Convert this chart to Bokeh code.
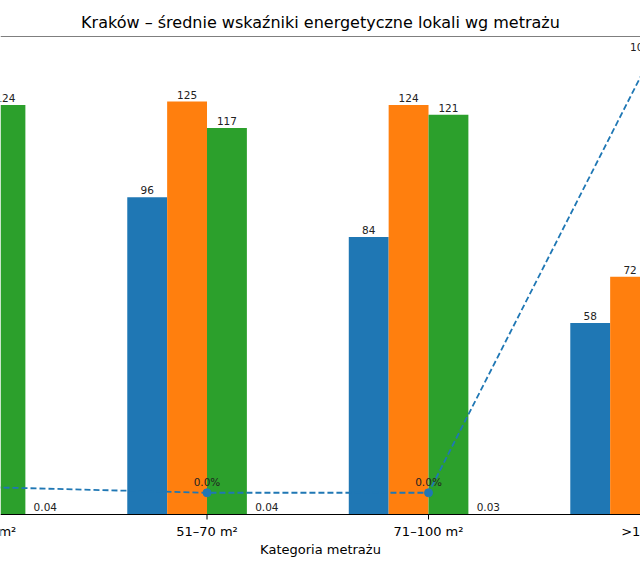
import math
from bokeh.plotting import figure
from bokeh.models import Range1d, Span, ColumnDataSource
from bokeh.core.properties import value
from bokeh.embed import file_html
from bokeh.resources import INLINE

# --- data -------------------------------------------------------------
categories = ["31–50 m²", "51–70 m²", "71–100 m²", ">100 m²"]
series_a = [math.nan, 96, 84, 58]          # blue
series_b = [math.nan, 125, 124, 72]        # orange
series_c = [124, 117, 121, math.nan]       # green
series_d = [0.04, 0.04, 0.03, math.nan]    # red (very small values)
share_pct = [1.3, 0.0, 0.0, 100.0]         # dashed line, secondary scale
x_label = "Kategoria metrażu"
title = "Kraków – średnie wskaźniki energetyczne lokali wg metrażu"

FONT = "DejaVu Sans"
BLUE, ORANGE, GREEN, RED = "#1f77b4", "#ff7f0e", "#2ca02c", "#d62728"
W = 0.18
X0, X1 = 0.0677, 2.957

# value axis: 0..144.7 over 478 px, plus a 56 px strip below zero that
# holds the category axis (ticks, names, axis title)
Y_TOP = 144.7
PX_PER_UNIT = 478 / Y_TOP
Y_BOTTOM = -56 / PX_PER_UNIT
PCT_LO, PCT_HI = -5.0, 105.0
PCT_PX = 478 / (PCT_HI - PCT_LO)
PCT_BOTTOM = PCT_LO - 56 / PCT_PX
TICK_LEN = 5 / PX_PER_UNIT

p = figure(width=640, height=570, output_backend="svg", toolbar_location=None,
           x_range=Range1d(X0, X1), y_range=Range1d(Y_BOTTOM, Y_TOP),
           x_axis_location=None, y_axis_location=None,
           min_border_left=0, min_border_right=0, min_border_bottom=0,
           min_border_top=36, title=title)
p.extra_y_ranges = {"pct": Range1d(PCT_BOTTOM, PCT_HI)}
p.grid.visible = False
p.outline_line_color = None
p.background_fill_color = "white"
p.border_fill_color = "white"

p.title.align = "center"
p.title.text_font = FONT
p.title.text_font_style = "normal"
p.title.text_font_size = "16px"
p.title.text_color = "black"

xs = list(range(len(categories)))
series = [(series_a, -1.5, BLUE), (series_b, -0.5, ORANGE),
          (series_c, 0.5, GREEN), (series_d, 1.5, RED)]

for vals, off, col in series:
    src = ColumnDataSource(dict(x=[i + off * W for i in xs], top=vals))
    p.vbar(x="x", top="top", bottom=0, width=W, source=src,
           fill_color=col, line_color=None)
    lx, ly, lt = [], [], []
    for i, v in zip(xs, vals):
        if v is None or (isinstance(v, float) and math.isnan(v)):
            continue
        lx.append(i + off * W)
        ly.append(v)
        lt.append(f"{v:.2f}" if v < 1 else f"{v:.0f}")
    p.text(x=lx, y=ly, text=lt, text_align="center", text_baseline="bottom",
           y_offset=-3, text_font=value(FONT), text_font_size="10.5px",
           text_color="#222222")

# dashed share line on the secondary range
p.line(xs, share_pct, y_range_name="pct", line_color=BLUE, line_width=1.8,
       line_dash="6 3")
p.scatter(xs, share_pct, y_range_name="pct", size=8, fill_color=BLUE,
          line_color=BLUE)
p.text(x=xs, y=share_pct, text=[f"{v:.1f}%" for v in share_pct],
       y_range_name="pct", text_align="center", text_baseline="bottom",
       y_offset=-5, text_font=value(FONT), text_font_size="10.5px",
       text_color="#222222")

# frame lines: top border and the category axis line at zero
p.add_layout(Span(location=Y_TOP, dimension="width", line_color="black",
                  line_width=1.2))
p.add_layout(Span(location=0, dimension="width", line_color="black",
                  line_width=1.2))

# category axis: outward ticks, names and axis title
p.segment(x0=xs, y0=[0] * len(xs), x1=xs, y1=[-TICK_LEN] * len(xs),
          line_color="black", line_width=1)
p.text(x=xs, y=[0] * len(xs), text=categories, text_align="center",
       text_baseline="top", y_offset=9, text_font=value(FONT),
       text_font_size="13px", text_color="black")
p.text(x=[(X0 + X1) / 2], y=[0], text=[x_label], text_align="center",
       text_baseline="top", y_offset=27, text_font=value(FONT),
       text_font_size="13px", text_color="black")

open("out.html", "w").write(file_html(p, INLINE))
